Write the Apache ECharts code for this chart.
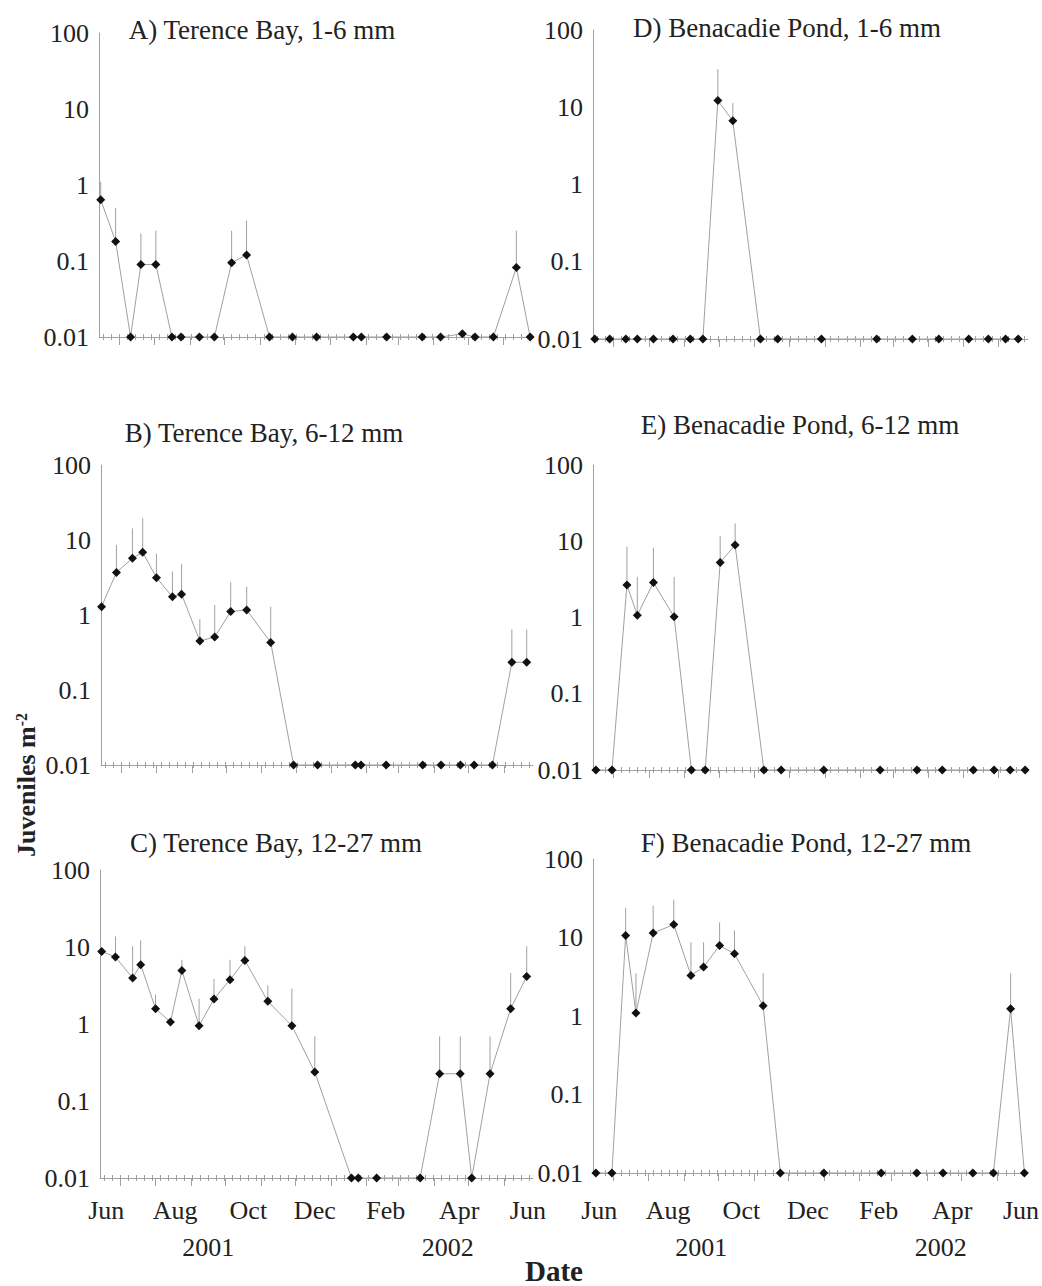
<!DOCTYPE html>
<html><head><meta charset="utf-8">
<script src="https://cdn.jsdelivr.net/npm/echarts@6/dist/echarts.min.js"></script>
<style>html,body{margin:0;padding:0;background:#fff}#c{width:1042px;height:1286px}</style>
</head><body><div id="c"></div>
<script>
// x values: days since 1 June 2001 ; y values: juveniles per m^2 (0 plotted at 0.01)
const dayA = [14, 27, 40, 49, 62, 76, 84, 100, 113, 128, 141, 161, 181, 202, 234, 241, 263, 294, 310, 329, 340, 356, 376, 388];
const valA = [0.64, 0.18, 0.01, 0.09, 0.09, 0.01, 0.01, 0.01, 0.01, 0.095, 0.12, 0.01, 0.01, 0.01, 0.01, 0.01, 0.01, 0.01, 0.01, 0.011, 0.01, 0.01, 0.082, 0.01];
const upA  = [1.1, 0.5, null, 0.23, 0.25, null, null, null, null, 0.25, 0.34, null, null, null, null, null, null, null, null, null, null, null, 0.25, null];

const dayB = [13, 26, 40, 49, 61, 75, 83, 99, 112, 126, 140, 161, 181, 202, 235, 240, 262, 294, 310, 327, 339, 355, 372, 385];
const valB = [1.29, 3.7, 5.7, 6.85, 3.15, 1.75, 1.89, 0.45, 0.51, 1.11, 1.17, 0.43, 0.01, 0.01, 0.01, 0.01, 0.01, 0.01, 0.01, 0.01, 0.01, 0.01, 0.234, 0.234];
const upB  = [null, 8.6, 14.3, 19.5, 6.6, 3.8, 4.8, 0.88, 1.36, 2.73, 2.39, 1.29, null, null, null, null, null, null, null, null, null, null, 0.64, 0.64];

const dayC = [14, 26, 41, 48, 61, 74, 84, 99, 112, 126, 139, 159, 180, 200, 232, 238, 254, 292, 309, 327, 337, 353, 371, 385];
const valC = [8.77, 7.4, 3.96, 5.9, 1.58, 1.06, 4.97, 0.95, 2.11, 3.76, 6.7, 1.97, 0.95, 0.238, 0.01, 0.01, 0.01, 0.01, 0.226, 0.226, 0.01, 0.226, 1.58, 4.15];
const upC  = [null, 13.7, 10.2, 12.2, 2.4, null, 6.8, 2.13, 3.84, 6.8, 10.2, 3.17, 2.87, 0.69, null, null, null, null, 0.69, 0.69, null, 0.69, 4.6, 10.2];

const dayD = [14, 27, 41, 51, 65, 82, 97, 108, 121, 134, 158, 173, 211, 259, 290, 313, 339, 356, 371, 382];
const valD = [0.01, 0.01, 0.01, 0.01, 0.01, 0.01, 0.01, 0.01, 12.2, 6.67, 0.01, 0.01, 0.01, 0.01, 0.01, 0.01, 0.01, 0.01, 0.01, 0.01];
const upD  = [null, null, null, null, null, null, null, null, 31, 11.3, null, null, null, null, null, null, null, null, null, null];

const dayE = [15, 29, 42, 51, 65, 83, 98, 110, 123, 136, 161, 176, 213, 262, 294, 316, 343, 361, 375, 388];
const valE = [0.01, 0.01, 2.66, 1.07, 2.88, 1.02, 0.01, 0.01, 5.27, 8.9, 0.01, 0.01, 0.01, 0.01, 0.01, 0.01, 0.01, 0.01, 0.01, 0.01];
const upE  = [null, null, 8.45, 3.41, 8.2, 3.41, null, null, 11.7, 17.1, null, null, null, null, null, null, null, null, null, null];

const dayF = [15, 29, 41, 50, 65, 83, 98, 109, 123, 136, 161, 176, 214, 264, 295, 318, 344, 362, 377, 389];
const valF = [0.01, 0.01, 10.6, 1.09, 11.4, 14.6, 3.29, 4.2, 7.9, 6.2, 1.35, 0.01, 0.01, 0.01, 0.01, 0.01, 0.01, 0.01, 1.24, 0.01];
const upF  = [null, null, 23.8, 3.5, 25.4, 30.3, 8.7, 8.7, 15.6, 12.3, 3.5, null, null, null, null, null, null, null, 3.5, null];

const panelTitles = ['A) Terence Bay, 1-6 mm', 'B) Terence Bay, 6-12 mm', 'C) Terence Bay, 12-27 mm',
                     'D) Benacadie Pond, 1-6 mm', 'E) Benacadie Pond, 6-12 mm', 'F) Benacadie Pond, 12-27 mm'];
const monthTickDays = [30, 61, 92, 122, 153, 183, 214, 245, 273, 304, 334, 365];
const monthLabelDays = [18, 78, 142, 200, 262, 326, 386];
const monthLabels = ['Jun', 'Aug', 'Oct', 'Dec', 'Feb', 'Apr', 'Jun'];
const yearLabelDays = [107, 316];
const yearLabels = ['2001', '2002'];
const yAxisTitle = 'Juveniles m';
const yAxisTitleSup = '-2';
const xAxisTitle = 'Date';

const X_MIN = 12.5, X_MAX = 390.5;
const weekTickDays = [];
for (let d = 16; d < X_MAX; d += 7) weekTickDays.push(d);

const FONT = 'Liberation Serif';
const TXT = '#222';
const GRAY = '#a0a0a0';

const panels = [
  {d: dayA, v: valA, u: upA, g: {left: 99, top: 33, width: 434, height: 304}, tx: 262, ty: 16, bottom: false},
  {d: dayB, v: valB, u: upB, g: {left: 101, top: 465, width: 432, height: 300}, tx: 264, ty: 419, bottom: false},
  {d: dayC, v: valC, u: upC, g: {left: 100, top: 870, width: 433, height: 308}, tx: 276, ty: 829, bottom: true, lm: 19, ym: 56},
  {d: dayD, v: valD, u: upD, g: {left: 593, top: 30, width: 435, height: 309}, tx: 787, ty: 14, bottom: false},
  {d: dayE, v: valE, u: upE, g: {left: 593, top: 465, width: 435, height: 305}, tx: 800, ty: 411, bottom: false},
  {d: dayF, v: valF, u: upF, g: {left: 593, top: 859, width: 435, height: 314}, tx: 806, ty: 829, bottom: true, lm: 24, ym: 61}
];

const grid = [], xAxis = [], yAxis = [], series = [], title = [];
panels.forEach((p, i) => {
  grid.push(Object.assign({containLabel: false}, p.g));
  title.push({text: panelTitles[i], left: p.tx, top: p.ty, textAlign: 'center', padding: 0,
    textStyle: {fontFamily: FONT, fontSize: 27, fontWeight: 'normal', color: TXT}});
  const mainIdx = xAxis.length;
  xAxis.push({
    type: 'value', gridIndex: i, position: 'bottom', min: X_MIN, max: X_MAX,
    axisLine: {show: true, onZero: false, lineStyle: {color: GRAY, width: 1}},
    axisTick: {show: true, customValues: monthTickDays, length: 8, lineStyle: {color: GRAY}},
    axisLabel: p.bottom ? {show: true, customValues: monthLabelDays, margin: p.lm,
      formatter: v => monthLabels[monthLabelDays.indexOf(v)],
      fontFamily: FONT, fontSize: 26, color: TXT} : {show: false},
    splitLine: {show: false}
  });
  xAxis.push({
    type: 'value', gridIndex: i, position: 'bottom', offset: -3, min: X_MIN, max: X_MAX,
    axisLine: {show: false, onZero: false},
    axisTick: {show: true, customValues: weekTickDays, length: 6, lineStyle: {color: GRAY}},
    axisLabel: {show: false}, splitLine: {show: false}
  });
  if (p.bottom) {
    xAxis.push({
      type: 'value', gridIndex: i, position: 'bottom', min: X_MIN, max: X_MAX,
      axisLine: {show: false, onZero: false}, axisTick: {show: false}, splitLine: {show: false},
      axisLabel: {show: true, customValues: yearLabelDays, margin: p.ym,
        formatter: v => yearLabels[yearLabelDays.indexOf(v)],
        fontFamily: FONT, fontSize: 26, color: TXT}
    });
  }
  yAxis.push({
    type: 'log', logBase: 10, gridIndex: i, min: 0.01, max: 100,
    axisLine: {show: true, lineStyle: {color: GRAY, width: 1}},
    axisTick: {show: false}, splitLine: {show: false}, minorTick: {show: false},
    axisLabel: {margin: 10, fontFamily: FONT, fontSize: 26, color: TXT,
      formatter: v => String(parseFloat(Number(v).toPrecision(6)))}
  });
  const errData = [];
  p.d.forEach((d, k) => { if (p.u[k] != null) errData.push([d, p.v[k], p.u[k]]); });
  series.push({
    type: 'custom', xAxisIndex: mainIdx, yAxisIndex: i, z: 1, silent: true,
    data: errData,
    renderItem: (params, api) => {
      const a = api.coord([api.value(0), api.value(1)]);
      const b = api.coord([api.value(0), api.value(2)]);
      return {type: 'line', shape: {x1: a[0], y1: a[1], x2: b[0], y2: b[1]},
        style: {stroke: GRAY, lineWidth: 1}};
    }
  });
  series.push({
    type: 'line', xAxisIndex: mainIdx, yAxisIndex: i, z: 3,
    data: p.d.map((d, k) => [d, p.v[k]]),
    symbol: 'diamond', symbolSize: 9, showAllSymbol: true, clip: false,
    lineStyle: {color: GRAY, width: 1},
    itemStyle: {color: '#111'},
    animation: false
  });
});

const chart = echarts.init(document.getElementById('c'), null, {renderer: 'svg'});
chart.setOption({
  animation: false,
  backgroundColor: '#fff',
  title, grid, xAxis, yAxis, series,
  graphic: [
    {type: 'text', x: 26, y: 785, rotation: Math.PI / 2,
      style: {text: '{a|' + yAxisTitle + '}{b|' + yAxisTitleSup + '}', align: 'center', verticalAlign: 'middle',
        rich: {a: {fontFamily: FONT, fontSize: 26, fontWeight: 'bold', fill: TXT, color: TXT},
               b: {fontFamily: FONT, fontSize: 16, fontWeight: 'bold', fill: TXT, color: TXT, verticalAlign: 'top', padding: [0, 0, 10, 0]}}}},
    {type: 'text', x: 554, y: 1271,
      style: {text: xAxisTitle, align: 'center', verticalAlign: 'middle', fontFamily: FONT, fontSize: 29, fontWeight: 'bold', fill: TXT}}
  ]
});
</script></body></html>
